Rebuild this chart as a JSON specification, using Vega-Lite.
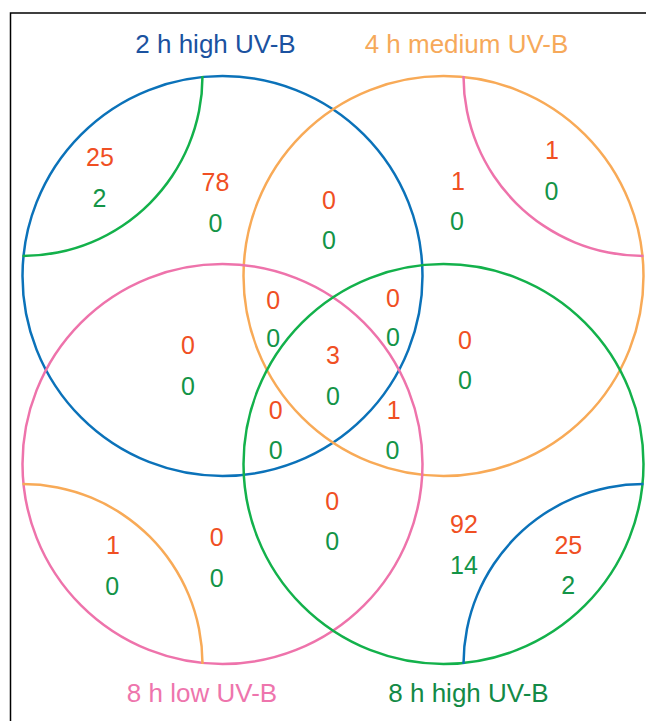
{
  "$schema": "https://vega.github.io/schema/vega-lite/v6.json",
  "width": 646,
  "height": 721,
  "autosize": {"type": "none"},
  "padding": 0,
  "background": "white",
  "config": {"view": {"stroke": null}},
  "datasets": {
    "frame": [{"x": 10.5, "y": 13, "x2": 700, "y2": 800}],
    "circles": [
      {"set": "2 h high UV-B", "x": 222.5, "y": 276},
      {"set": "4 h medium UV-B", "x": 443.5, "y": 276},
      {"set": "8 h low UV-B", "x": 222.5, "y": 464},
      {"set": "8 h high UV-B", "x": 443.5, "y": 464}
    ],
    "arcs": [
      {"set": "8 h high UV-B", "corner": "top-left", "x": 22.5, "y": 76},
      {"set": "4 h medium UV-B", "corner": "bottom-left", "x": 22.5, "y": 664},
      {"set": "8 h low UV-B", "corner": "top-right", "x": 643.5, "y": 76},
      {"set": "2 h high UV-B", "corner": "bottom-right", "x": 643.5, "y": 664}
    ],
    "titles": [
      {"set": "2 h high UV-B", "x": 215.5, "y": 53},
      {"set": "4 h medium UV-B", "x": 466.5, "y": 53},
      {"set": "8 h low UV-B", "x": 202, "y": 702},
      {"set": "8 h high UV-B", "x": 468.5, "y": 702}
    ],
    "counts": [
      {"x": 100, "y": 166, "n": "25", "kind": "up"},
      {"x": 99.5, "y": 207, "n": "2", "kind": "down"},
      {"x": 215.5, "y": 191, "n": "78", "kind": "up"},
      {"x": 215.5, "y": 232, "n": "0", "kind": "down"},
      {"x": 329, "y": 209, "n": "0", "kind": "up"},
      {"x": 329, "y": 249, "n": "0", "kind": "down"},
      {"x": 458, "y": 190, "n": "1", "kind": "up"},
      {"x": 457, "y": 230, "n": "0", "kind": "down"},
      {"x": 552, "y": 158.5, "n": "1", "kind": "up"},
      {"x": 551.5, "y": 199.5, "n": "0", "kind": "down"},
      {"x": 273.3, "y": 308.5, "n": "0", "kind": "up"},
      {"x": 273.3, "y": 347, "n": "0", "kind": "down"},
      {"x": 393, "y": 306.7, "n": "0", "kind": "up"},
      {"x": 393, "y": 346, "n": "0", "kind": "down"},
      {"x": 188, "y": 353.5, "n": "0", "kind": "up"},
      {"x": 188, "y": 394.5, "n": "0", "kind": "down"},
      {"x": 333, "y": 364, "n": "3", "kind": "up"},
      {"x": 333, "y": 405, "n": "0", "kind": "down"},
      {"x": 465, "y": 348.5, "n": "0", "kind": "up"},
      {"x": 465, "y": 388.5, "n": "0", "kind": "down"},
      {"x": 275.7, "y": 418.5, "n": "0", "kind": "up"},
      {"x": 275.7, "y": 459.3, "n": "0", "kind": "down"},
      {"x": 393.7, "y": 419, "n": "1", "kind": "up"},
      {"x": 392.5, "y": 459, "n": "0", "kind": "down"},
      {"x": 332.3, "y": 509.5, "n": "0", "kind": "up"},
      {"x": 332.3, "y": 550, "n": "0", "kind": "down"},
      {"x": 464, "y": 533, "n": "92", "kind": "up"},
      {"x": 464, "y": 573.5, "n": "14", "kind": "down"},
      {"x": 568.3, "y": 553.5, "n": "25", "kind": "up"},
      {"x": 568.3, "y": 594, "n": "2", "kind": "down"},
      {"x": 113, "y": 553.5, "n": "1", "kind": "up"},
      {"x": 112.3, "y": 594.5, "n": "0", "kind": "down"},
      {"x": 216.7, "y": 546, "n": "0", "kind": "up"},
      {"x": 216.7, "y": 587, "n": "0", "kind": "down"}
    ]
  },
  "encoding": {
    "x": {"field": "x", "type": "quantitative", "scale": {"domain": [0, 646], "nice": false, "zero": false}, "axis": null},
    "y": {"field": "y", "type": "quantitative", "scale": {"domain": [0, 721], "nice": false, "zero": false, "reverse": true}, "axis": null}
  },
  "layer": [
    {
      "data": {"name": "frame"},
      "mark": {"type": "rect", "fill": null, "stroke": "black", "strokeWidth": 1.5},
      "encoding": {
        "x2": {"field": "x2"},
        "y2": {"field": "y2"}
      }
    },
    {
      "data": {"name": "circles"},
      "mark": {"type": "point", "shape": "circle", "filled": false, "size": 160000, "strokeWidth": 2.5, "opacity": 1},
      "encoding": {
        "color": {"field": "set", "type": "nominal", "legend": null,
          "scale": {"domain": ["2 h high UV-B", "4 h medium UV-B", "8 h low UV-B", "8 h high UV-B"], "range": ["#0b72b9", "#f8aa57", "#ee73ab", "#13b14b"]}}
      }
    },
    {
      "data": {"name": "arcs"},
      "transform": [{"filter": "datum.corner == 'top-left'"}],
      "mark": {"type": "arc", "radius": 181.25, "radius2": 178.75, "theta": 1.5708, "theta2": 3.1416, "color": "#13b14b"}
    },
    {
      "data": {"name": "arcs"},
      "transform": [{"filter": "datum.corner == 'bottom-left'"}],
      "mark": {"type": "arc", "radius": 181.25, "radius2": 178.75, "theta": 0, "theta2": 1.5708, "color": "#f8aa57"}
    },
    {
      "data": {"name": "arcs"},
      "transform": [{"filter": "datum.corner == 'top-right'"}],
      "mark": {"type": "arc", "radius": 181.25, "radius2": 178.75, "theta": 3.1416, "theta2": 4.7124, "color": "#ee73ab"}
    },
    {
      "data": {"name": "arcs"},
      "transform": [{"filter": "datum.corner == 'bottom-right'"}],
      "mark": {"type": "arc", "radius": 181.25, "radius2": 178.75, "theta": 4.7124, "theta2": 6.2832, "color": "#0b72b9"}
    },
    {
      "data": {"name": "titles"},
      "mark": {"type": "text", "font": "Liberation Sans", "fontSize": 26, "baseline": "alphabetic", "align": "center"},
      "encoding": {
        "text": {"field": "set"},
        "color": {"field": "set", "type": "nominal", "legend": null,
          "scale": {"domain": ["2 h high UV-B", "4 h medium UV-B", "8 h low UV-B", "8 h high UV-B"], "range": ["#1b52a0", "#f6a95a", "#ee75ad", "#138a46"]}}
      }
    },
    {
      "data": {"name": "counts"},
      "mark": {"type": "text", "font": "Liberation Sans", "fontSize": 25, "baseline": "alphabetic", "align": "center"},
      "encoding": {
        "text": {"field": "n"},
        "color": {"field": "kind", "type": "nominal", "legend": null,
          "scale": {"domain": ["up", "down"], "range": ["#f04f23", "#139447"]}}
      }
    }
  ],
  "resolve": {"scale": {"color": "independent"}}
}
